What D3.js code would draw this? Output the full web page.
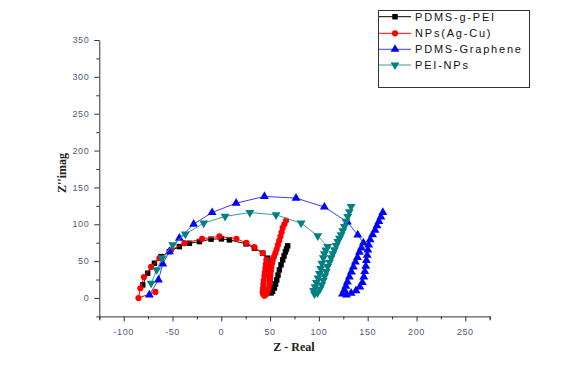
<!DOCTYPE html>
<html><head><meta charset="utf-8">
<script src="https://cdn.jsdelivr.net/npm/d3@7/dist/d3.min.js"></script>
<style>body{margin:0;background:#fff}svg{display:block}</style>
</head><body>
<script>
const seriesNames = ["PDMS-g-PEI", "NPs(Ag-Cu)", "PDMS-Graphene", "PEI-NPs"];
const xTicks = [-100, -50, 0, 50, 100, 150, 200, 250];
const yTicks = [0, 50, 100, 150, 200, 250, 300, 350];

const pdmsGPEI = [[-80.5,17.7],[-75.4,33.6],[-68.5,47.2],[-61.7,56.1],[-53.2,62.9],[-43.0,69.7],[-32.7,74.2],[-22.4,76.5],[-10.5,79.8],[0.1,80.2],[8.3,78.8],[25.4,73.4],[33.9,67.6],[42.4,60.8],[47.5,54.0],[48.5,48],[49.3,43.5],[49.6,37],[49.8,31.3],[49.8,25],[49.8,19.0],[50.3,12],[51.0,6.8],[52.5,9],[54.4,13.6],[55.6,19],[56.8,24.5],[58.1,31],[59.5,38.1],[61.2,45],[62.9,51.7],[64.3,57],[65.7,62.5],[66.8,66.5],[68.0,70.7]];
const npsAgCu = [[-67.5,8.2],[-84.9,0],[-82.9,13.2],[-79.3,28.5],[-71.9,42.1],[-63.4,54.0],[-51.4,65.2],[-37.8,74.4],[-19.7,80.2],[-1.9,83.6],[15.5,80.2],[25.7,74.8],[33.9,68.9],[42.4,60.8],[46.2,51.7],[45.7,46],[45.2,40.8],[44.7,35],[44.2,29.9],[43.6,24],[43.1,19.0],[42.7,13],[42.4,8.2],[43,5],[44.2,3],[46,5],[47.2,8.2],[48.3,13],[49.3,19.0],[49.8,25],[50.3,31.3],[50.8,36.5],[51.3,42.1],[52,47],[52.7,51.7],[54,56],[55.4,60.8],[56.7,66],[58.0,72.0],[59.3,77.5],[60.6,83.3],[61.8,89],[62.9,95.1],[64.6,100],[66.4,105.1]];
const pdmsGraphene = [[-73.7,4.1],[-64.4,24.5],[-60.0,46.2],[-53.2,62.9],[-43.0,81.1],[-28.3,100.2],[-9.4,115.9],[15.2,128.7],[44.2,137.7],[76.6,135.5],[105.6,123.4],[129.2,103.0],[139.8,85.6],[145.6,74.8],[143.5,68],[141.5,62],[139.5,55],[137.4,48.9],[135.3,42],[133.3,35.3],[131.2,28.5],[129.2,21.7],[127.6,16],[126.1,10.9],[124.1,5.4],[128.2,4],[133,6.5],[138,10],[142,15],[144.5,21],[146,28.5],[147,36],[148,43],[148.7,51],[149.5,58],[150.2,65],[151,72],[152.5,79],[155,86],[157.5,92],[159.5,98],[161.5,104],[163.5,110],[165.5,116]];
const peiNPs = [[-71.9,20.0],[-66.2,38.1],[-60.7,54.0],[-49.8,72.0],[-36.8,86.6],[-18.0,101.5],[3.9,110.8],[29.3,115.9],[56.1,112.8],[81.8,101.5],[98.8,84.3],[109.0,69.7],[107,65],[105.6,60],[104.5,54.4],[103,47],[101.8,40],[100.5,33],[99,27],[97.5,21],[96,15],[94.5,10],[95.5,5.4],[98.5,7],[101,12],[103,18],[104.5,24],[106,30],[107.5,36],[109,42.5],[110.8,48.5],[112.5,54.4],[114.2,60],[115.9,65.2],[117.6,71],[119.3,76.5],[121,81],[122.7,85.6],[124.4,91],[126.1,96.9],[127.8,104],[129.5,110.5],[131.2,117],[133,124.1]];

const W = 580, H = 367;
const svg = d3.select("body").append("svg").attr("width", W).attr("height", H);
const x = d3.scaleLinear().domain([-125, 275]).range([99.3, 489.7]);
const y = d3.scaleLinear().domain([-25, 350]).range([316.4, 40]);

const axisColor = "#333";
const labelColor = "#4d5b7c";

// x axis
const gx = svg.append("g").attr("transform", `translate(0,${y(-25)})`);
gx.call(d3.axisBottom(x).tickValues(d3.range(-125, 276, 25)).tickSize(4).tickFormat(""));
gx.call(g => g.select(".domain").attr("stroke", axisColor));
gx.selectAll(".tick line").attr("stroke", axisColor).attr("y2", d => (d % 50 === 0) ? 5 : 3);
gx.selectAll(".lbl").data(xTicks).join("text").attr("class","lbl")
  .attr("x", d => x(d)).attr("y", 19).attr("text-anchor","middle")
  .attr("font-family","Liberation Sans, Arial, sans-serif").attr("font-size",9).attr("letter-spacing",0.6)
  .attr("fill", labelColor).text(d => d);

// y axis
const gy = svg.append("g").attr("transform", `translate(${x(-125)},0)`);
gy.call(d3.axisLeft(y).tickValues(d3.range(-25, 351, 25)).tickSize(0).tickFormat(""));
gy.call(g => g.select(".domain").attr("stroke", axisColor));
gy.selectAll(".tick line").attr("stroke", axisColor).attr("x2", d => (d % 50 === 0) ? -5 : -3);
gy.selectAll(".lbl").data(yTicks).join("text").attr("class","lbl")
  .attr("x", -10).attr("y", d => y(d) + 3.2).attr("text-anchor","end")
  .attr("font-family","Liberation Sans, Arial, sans-serif").attr("font-size",9).attr("letter-spacing",0.6)
  .attr("fill", labelColor).text(d => d);

// titles
svg.append("text").attr("x", 294).attr("y", 351).attr("text-anchor","middle")
  .attr("font-family","Liberation Serif, Times New Roman, serif").attr("font-weight","bold").attr("font-size",12)
  .attr("fill","#222").text("Z - Real");
svg.append("text").attr("transform","translate(66,173) rotate(-90)").attr("text-anchor","middle")
  .attr("font-family","Liberation Serif, Times New Roman, serif").attr("font-weight","bold").attr("font-size",12)
  .attr("fill","#222").text("Z''imag");

const styles = [
  {data: pdmsGPEI, line: "#000", fill: "#000", sym: d3.symbolSquare, size: 30, rot: 0},
  {data: npsAgCu, line: "#ff0000", fill: "#ff0000", sym: d3.symbolCircle, size: 30, rot: 0},
  {data: pdmsGraphene, line: "#3a3aff", fill: "#0000ff", sym: d3.symbolTriangle, size: 34, rot: 0},
  {data: peiNPs, line: "#3a9a9a", fill: "#008080", sym: d3.symbolTriangle, size: 34, rot: 180}
];
const line = d3.line().x(d => x(d[0])).y(d => y(d[1]));

styles.forEach((s, i) => {
  const g = svg.append("g");
  g.append("path").datum(s.data).attr("d", line).attr("fill","none").attr("stroke", s.line).attr("stroke-width",1);
  g.selectAll("path.m").data(s.data).join("path").attr("class","m")
    .attr("d", d3.symbol().type(s.sym).size(s.size))
    .attr("transform", d => `translate(${x(d[0])},${y(d[1])}) rotate(${s.rot})`)
    .attr("fill", s.fill);
});

// legend
const lg = svg.append("g");
lg.append("rect").attr("x",378.5).attr("y",10.5).attr("width",151).attr("height",77)
  .attr("fill","#fff").attr("stroke","#333").attr("stroke-width",1);
const ly = [16.7, 33.3, 49.3, 65];
styles.forEach((s, i) => {
  lg.append("line").attr("x1",379).attr("x2",411).attr("y1",ly[i]).attr("y2",ly[i]).attr("stroke", s.line).attr("stroke-width",1);
  lg.append("path").attr("d", d3.symbol().type(s.sym).size(s.size))
    .attr("transform", `translate(395,${ly[i]}) rotate(${s.rot})`).attr("fill", s.fill);
  lg.append("text").attr("x",415).attr("y",ly[i]+4).attr("font-family","Liberation Sans, Arial, sans-serif")
    .attr("font-size",11).attr("letter-spacing",1.8).attr("fill","#111").text(seriesNames[i]);
});
</script>
</body></html>
